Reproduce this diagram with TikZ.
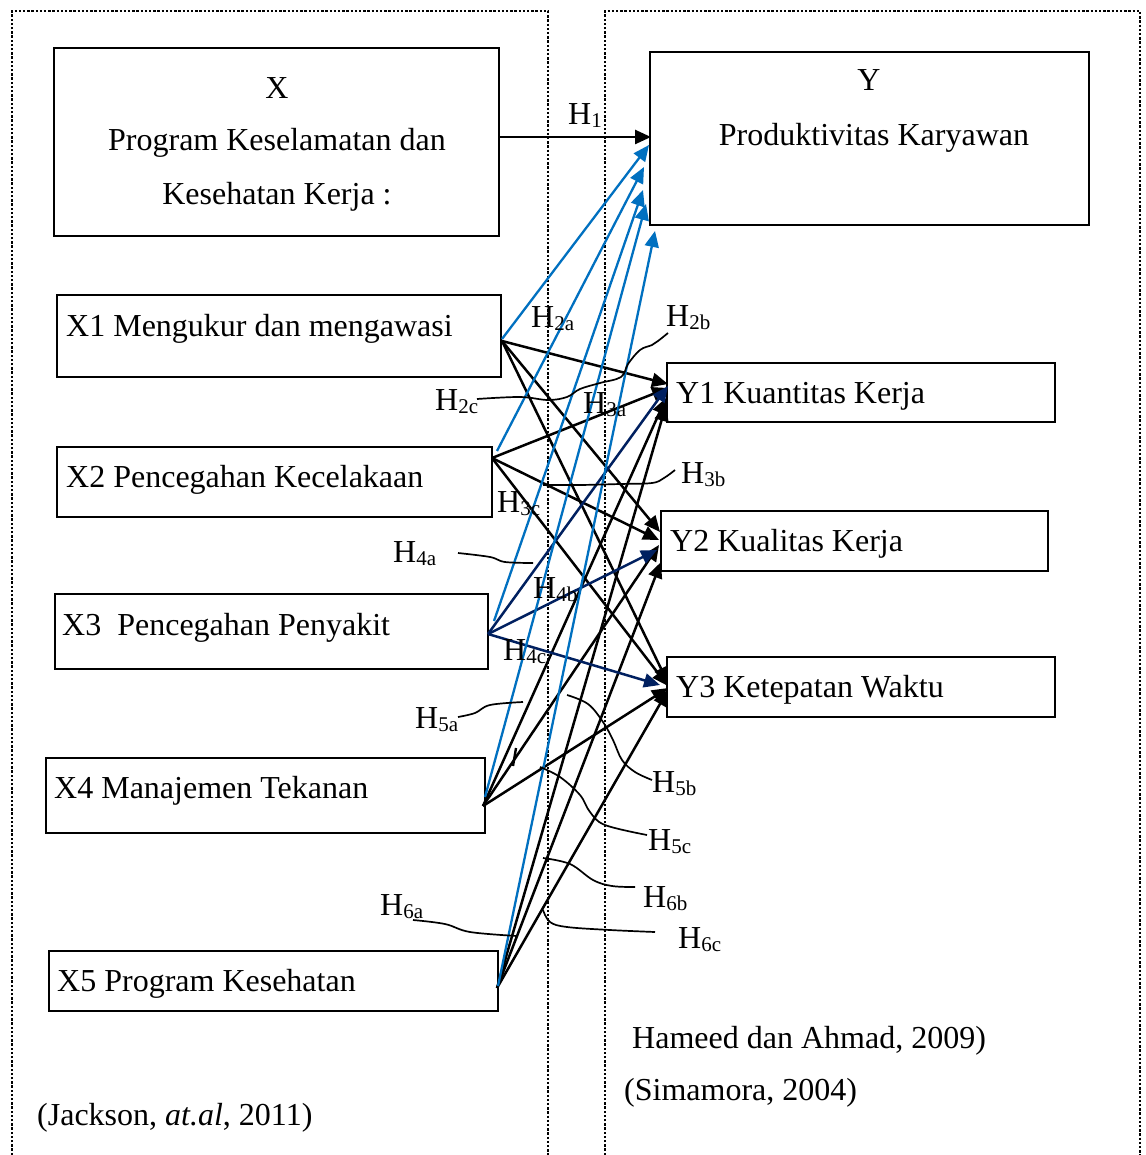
\documentclass[tikz,border=0pt]{standalone}
\usepackage{fontspec}
\setmainfont{Liberation Serif}
\usetikzlibrary{arrows.meta}
\definecolor{hblue}{HTML}{0070C0}
\definecolor{hnavy}{HTML}{002060}
\newcommand\Hsub[1]{H\raisebox{-3pt}{\fontsize{21}{21}\selectfont #1}}
\begin{document}
\begin{tikzpicture}[x=1pt,y=-1pt,
  box/.style={draw, line width=2pt, inner sep=0pt, anchor=north west},
  txt/.style={inner sep=0pt, anchor=base west, font=\fontsize{32}{38}\selectfont},
  ctxt/.style={inner sep=0pt, anchor=base, font=\fontsize{32}{38}\selectfont},
  dotb/.style={line width=2.4pt, dash pattern=on 2.4pt off 1.8pt},
  arr/.style={line width=2.5pt, -{Triangle[length=16pt,width=14pt]}},
  barr/.style={arr, line width=2.3pt, hblue},
  narr/.style={arr, hnavy},
  lead/.style={line width=1.7pt},
]
\useasboundingbox (0,0) rectangle (1145,1155);
\fill[white] (0,0) rectangle (1145,1155);

% dotted containers
\draw[dotb] (12,1155) -- (12,11) -- (548,11) -- (548,1155);
\draw[dotb] (605,1155) -- (605,11) -- (1140,11) -- (1140,1155);

% boxes
\node[box, minimum width=445pt, minimum height=188pt] (X) at (53,47) {};
\node[box, minimum width=439pt, minimum height=173pt] (Y) at (649,51) {};
\node[box, minimum width=444pt, minimum height=82pt] (X1) at (56,294) {};
\node[box, minimum width=435pt, minimum height=70pt] (X2) at (56,446) {};
\node[box, minimum width=433pt, minimum height=75pt] (X3) at (54,593) {};
\node[box, minimum width=439pt, minimum height=75pt] (X4) at (45,757) {};
\node[box, minimum width=449pt, minimum height=60pt] (X5) at (48,950) {};
\node[box, minimum width=388pt, minimum height=59pt] (Y1) at (666,362) {};
\node[box, minimum width=387pt, minimum height=60pt] (Y2) at (660,510) {};
\node[box, minimum width=388pt, minimum height=60pt] (Y3) at (666,656) {};

% box texts
\node[ctxt] (Xt1) at (277,99) {X};
\node[ctxt] (Xt2) at (277,151) {Program Keselamatan dan};
\node[ctxt] (Xt3) at (277,205) {Kesehatan Kerja :};
\node[ctxt] (Yt1) at (869,91) {Y};
\node[ctxt] (Yt2) at (874,146) {Produktivitas Karyawan};
\node[txt] (X1t) at (66,336) {X1 Mengukur dan mengawasi};
\node[txt] (X2t) at (66,487) {X2 Pencegahan Kecelakaan};
\node[txt] (X3t) at (62,635) {X3\ \ Pencegahan Penyakit};
\node[txt] (X4t) at (54,798) {X4 Manajemen Tekanan};
\node[txt] (X5t) at (57,991) {X5 Program Kesehatan};
\node[txt] (Y1t) at (676,403) {Y1 Kuantitas Kerja};
\node[txt] (Y2t) at (670,551) {Y2 Kualitas Kerja};
\node[txt] (Y3t) at (676,697) {Y3 Ketepatan Waktu};

% references
\node[txt] (r1) at (632,1048) {Hameed dan Ahmad, 2009)};
\node[txt] (r2) at (624,1100) {(Simamora, 2004)};
\node[txt] (r3) at (37,1125) {(Jackson, \textit{at.al}, 2011)};

% ports
\coordinate (h1s) at (499,137);
\coordinate (h1e) at (651,137);
\coordinate (x1o) at (502,341);
\coordinate (x1b) at (502,339);
\coordinate (x2o) at (492,458);
\coordinate (x2b) at (497,451);
\coordinate (x3o) at (488,634);
\coordinate (x3b) at (494,621);
\coordinate (x4o) at (483,806);
\coordinate (x4b) at (485,797);
\coordinate (x5o) at (497,988);
\coordinate (x5b) at (498,986);
\coordinate (yb1) at (649,145);
\coordinate (yb2) at (644,167);
\coordinate (yb3) at (643,190);
\coordinate (yb4) at (646,204);
\coordinate (yb5) at (655,231);
\coordinate (y1a) at (668,384);
\coordinate (y1b) at (668,388);
\coordinate (y1c) at (668,386);
\coordinate (y1d) at (666,398);
\coordinate (y1e) at (666,405);
\coordinate (y2a) at (660,532);
\coordinate (y2b) at (659,540);
\coordinate (y2c) at (657,550);
\coordinate (y2d) at (659,545);
\coordinate (y2e) at (661,562);
\coordinate (y3a) at (668,683);
\coordinate (y3b) at (668,686);
\coordinate (y3c) at (660,685);
\coordinate (y3d) at (668,688);
\coordinate (y3e) at (668,690);

% H1
\draw[arr] (h1s) -- (h1e);

% black arrows
\draw[arr] (x1o) -- (y1a);
\draw[arr] (x1o) -- (y2a);
\draw[arr] (x1o) -- (y3a);
\draw[arr] (x2o) -- (y1b);
\draw[arr] (x2o) -- (y2b);
\draw[arr] (x2o) -- (y3b);
\draw[arr] (x4o) -- (y1d);
\draw[arr] (x4o) -- (y2d);
\draw[arr] (x4o) -- (y3d);
\draw[arr] (x5o) -- (y1e);
\draw[arr] (x5o) -- (y2e);
\draw[arr] (x5o) -- (y3e);

% navy arrows
\draw[narr] (x3o) -- (y1c);
\draw[narr] (x3o) -- (y2c);
\draw[narr] (x3o) -- (y3c);

% blue arrows
\draw[barr] (x1b) -- (yb1);
\draw[barr] (x2b) -- (yb2);
\draw[barr] (x3b) -- (yb3);
\draw[barr] (x4b) -- (yb4);
\draw[barr] (x5b) -- (yb5);

% stray tick
\draw[line width=2.4pt] (516,748) -- (513,766);

% labels
\node[txt] (H1) at (568,125) {\Hsub{1}};
\node[txt] (H2a) at (531,327) {\Hsub{2a}};
\node[txt] (H2b) at (666,326) {\Hsub{2b}};
\node[txt] (H2c) at (435,410) {\Hsub{2c}};
\node[txt] (H3a) at (583,413) {\Hsub{3a}};
\node[txt] (H3b) at (681,483) {\Hsub{3b}};
\node[txt] (H3c) at (497,512) {\Hsub{3c}};
\node[txt] (H4a) at (393,562) {\Hsub{4a}};
\node[txt] (H4b) at (533,598) {\Hsub{4b}};
\node[txt] (H4c) at (503,660) {\Hsub{4c}};
\node[txt] (H5a) at (415,728) {\Hsub{5a}};
\node[txt] (H5b) at (652,792) {\Hsub{5b}};
\node[txt] (H5c) at (648,850) {\Hsub{5c}};
\node[txt] (H6a) at (380,915) {\Hsub{6a}};
\node[txt] (H6b) at (643,907) {\Hsub{6b}};
\node[txt] (H6c) at (678,948) {\Hsub{6c}};

% leader lines
\draw[lead] plot[smooth, tension=0.6] coordinates {(477,399) (520,397) (548,400) (567,397) (580,389) (600,383) (621,377) (628,364) (640,350) (652,345) (658,341) (668,333)};
\draw[lead] plot[smooth, tension=0.6] coordinates {(675,470) (664,478) (652,483) (620,484) (580,485) (543,485)};
\draw[lead] plot[smooth, tension=0.6] coordinates {(458,553) (490,557) (505,562) (533,563)};
\draw[lead] plot[smooth, tension=0.6] coordinates {(458,717) (475,713) (490,705) (523,702)};
\draw[lead] plot[smooth, tension=0.6] coordinates {(567,695) (588,704) (603,722) (613,740) (622,760) (635,772) (652,780)};
\draw[lead] plot[smooth, tension=0.6] coordinates {(540,767) (560,777) (580,795) (590,812) (605,825) (647,835)};
\draw[lead] plot[smooth, tension=0.6] coordinates {(413,920) (445,924) (470,932) (517,936)};
\draw[lead] plot[smooth, tension=0.6] coordinates {(543,858) (570,864) (593,880) (612,886) (635,887)};
\draw[lead] plot[smooth, tension=0.6] coordinates {(543,910) (550,922) (567,927) (610,930) (655,932)};
\end{tikzpicture}
\end{document}
